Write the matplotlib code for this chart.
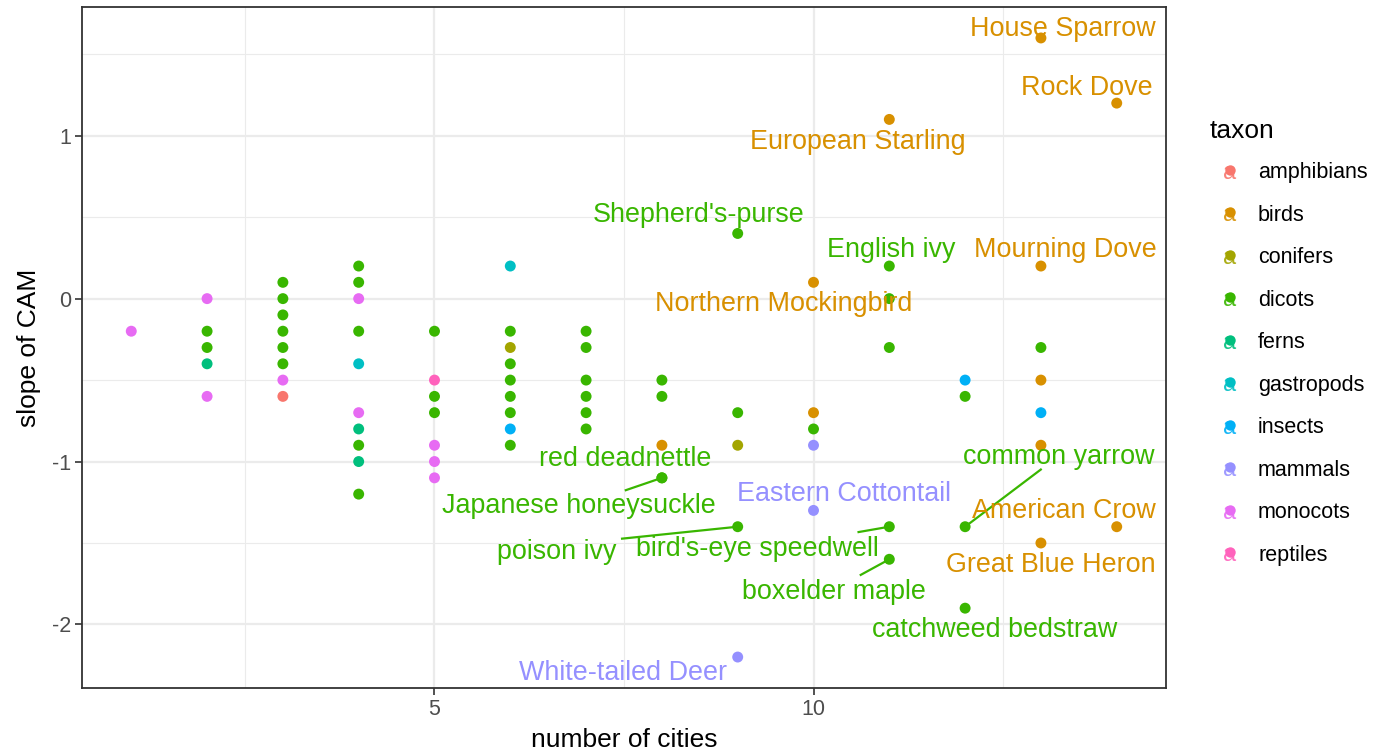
import matplotlib
matplotlib.use("Agg")
import matplotlib.pyplot as plt
from matplotlib.lines import Line2D

plt.rcParams['font.family'] = ['Liberation Sans', 'DejaVu Sans']
plt.rcParams['axes.unicode_minus'] = False

# species: number of cities, slope of CAM, taxon, name (blank = unlabelled)
cities = [1,
          2, 2, 2, 2, 2,
          3, 3, 3, 3, 3, 3, 3, 3,
          4, 4, 4, 4, 4, 4, 4, 4, 4, 4,
          5, 5, 5, 5, 5, 5, 5,
          6, 6, 6, 6, 6, 6, 6, 6, 6,
          7, 7, 7, 7, 7, 7,
          8, 8, 8, 8, 8,
          9, 9, 9, 9, 9,
          10, 10, 10, 10, 10,
          11, 11, 11, 11, 11, 11,
          12, 12, 12, 12,
          13, 13, 13, 13, 13, 13, 13,
          14, 14]
slope = [-0.2,
         0.0, -0.2, -0.3, -0.4, -0.6,
         0.1, 0.0, -0.1, -0.2, -0.3, -0.4, -0.5, -0.6,
         0.2, 0.1, 0.0, -0.2, -0.4, -0.7, -0.8, -0.9, -1.0, -1.2,
         -0.2, -0.5, -0.6, -0.7, -0.9, -1.0, -1.1,
         0.2, -0.2, -0.3, -0.4, -0.5, -0.6, -0.7, -0.8, -0.9,
         -0.2, -0.3, -0.5, -0.6, -0.7, -0.8,
         -0.5, -0.6, -0.9, -1.1, -1.1,
         0.4, -0.7, -0.9, -1.4, -2.2,
         0.1, -0.7, -0.8, -0.9, -1.3,
         1.1, 0.2, 0.0, -0.3, -1.4, -1.6,
         -0.5, -0.6, -1.4, -1.9,
         1.6, 0.2, -0.3, -0.5, -0.7, -0.9, -1.5,
         1.2, -1.4]
taxon = ['monocots',
         'monocots', 'dicots', 'dicots', 'ferns', 'monocots',
         'dicots', 'dicots', 'dicots', 'dicots', 'dicots', 'dicots', 'monocots', 'amphibians',
         'dicots', 'dicots', 'monocots', 'dicots', 'gastropods', 'monocots', 'ferns', 'dicots', 'ferns', 'dicots',
         'dicots', 'reptiles', 'dicots', 'dicots', 'monocots', 'monocots', 'monocots',
         'gastropods', 'dicots', 'conifers', 'dicots', 'dicots', 'dicots', 'dicots', 'insects', 'dicots',
         'dicots', 'dicots', 'dicots', 'dicots', 'dicots', 'dicots',
         'dicots', 'dicots', 'birds', 'dicots', 'dicots',
         'dicots', 'dicots', 'conifers', 'dicots', 'mammals',
         'birds', 'birds', 'dicots', 'mammals', 'mammals',
         'birds', 'dicots', 'dicots', 'dicots', 'dicots', 'dicots',
         'insects', 'dicots', 'dicots', 'dicots',
         'birds', 'birds', 'dicots', 'birds', 'insects', 'birds', 'birds',
         'birds', 'birds']
names = ['',
         '', '', '', '', '',
         '', '', '', '', '', '', '', '',
         '', '', '', '', '', '', '', '', '', '',
         '', '', '', '', '', '', '',
         '', '', '', '', '', '', '', '', '',
         '', '', '', '', '', '',
         '', '', '', 'red deadnettle', 'Japanese honeysuckle',
         "Shepherd's-purse", '', '', 'poison ivy', 'White-tailed Deer',
         'Northern Mockingbird', '', '', '', 'Eastern Cottontail',
         'European Starling', 'English ivy', '', '', "bird's-eye speedwell", 'boxelder maple',
         '', '', 'common yarrow', 'catchweed bedstraw',
         'House Sparrow', 'Mourning Dove', '', '', '', '', 'Great Blue Heron',
         'Rock Dove', 'American Crow']

taxa = ['amphibians', 'birds', 'conifers', 'dicots', 'ferns',
        'gastropods', 'insects', 'mammals', 'monocots', 'reptiles']
palette = ['#F8766D', '#D89000', '#A3A500', '#39B600', '#00BF7D',
           '#00BFC4', '#00B0F6', '#9590FF', '#E76BF3', '#FF62BC']
colour = dict(zip(taxa, palette))

# repelled label placement: text anchor (centre, baseline) and optional segment end
label_pos = {
    'House Sparrow': (13.29, 1.613, None),
    'Rock Dove': (13.60, 1.250, None),
    'European Starling': (10.59, 0.920, None),
    "Shepherd's-purse": (8.49, 0.468, None),
    'English ivy': (11.02, 0.258, None),
    'Mourning Dove': (13.32, 0.258, None),
    'Northern Mockingbird': (9.61, -0.074, None),
    'red deadnettle': (7.51, -1.025, None),
    'Japanese honeysuckle': (6.90, -1.317, (7.51, -1.178)),
    'poison ivy': (6.61, -1.597, (7.46, -1.474)),
    "bird's-eye speedwell": (9.26, -1.577, (10.58, -1.434)),
    'Eastern Cottontail': (10.40, -1.244, None),
    'common yarrow': (13.24, -1.014, (13.01, -1.045)),
    'American Crow': (13.30, -1.348, None),
    'Great Blue Heron': (13.13, -1.679, None),
    'boxelder maple': (10.27, -1.842, (10.61, -1.699)),
    'catchweed bedstraw': (12.39, -2.078, None),
    'White-tailed Deer': (7.49, -2.339, None),
}

W, H = 1382, 753
fig = plt.figure(figsize=(W / 100, H / 100), dpi=100)
ax = fig.add_axes([82 / W, 1 - 688 / H, (1166 - 82) / W, (688 - 7) / H])

ax.set_xlim(0.35, 14.65)
ax.set_ylim(-2.39, 1.79)
ax.set_xticks([5, 10])
ax.set_yticks([-2, -1, 0, 1])
ax.set_xticks([2.5, 7.5, 12.5], minor=True)
ax.set_yticks([-1.5, -0.5, 0.5, 1.5], minor=True)
ax.grid(which='major', color='#EBEBEB', linewidth=1.6)
ax.grid(which='minor', color='#EBEBEB', linewidth=0.8)
ax.set_axisbelow(True)
ax.tick_params(which='major', length=5, width=1.2, color='#333333',
               labelsize=15.5, labelcolor='#4D4D4D', pad=3)
ax.tick_params(which='minor', length=0)
for s in ax.spines.values():
    s.set_color('#333333')
    s.set_linewidth(1.3)

ax.set_xlabel('number of cities', fontsize=19, labelpad=6)
ax.set_ylabel('slope of CAM', fontsize=19, labelpad=8)

# segments first so the points sit on top of them
for x, y, n, t in zip(cities, slope, names, taxon):
    if n and label_pos[n][2] is not None:
        ex, ey = label_pos[n][2]
        ax.plot([x, ex], [y, ey], color=colour[t], linewidth=1.6,
                solid_capstyle='butt', zorder=2)

ax.scatter(cities, slope, c=[colour[t] for t in taxon], s=62,
           linewidths=0, zorder=3)

for x, y, n, t in zip(cities, slope, names, taxon):
    if n:
        tx, ty, _ = label_pos[n]
        ax.text(tx, ty, n, color=colour[t], fontsize=19.4,
                ha='center', va='baseline', zorder=4)

# legend drawn by hand: point with an "a" over it, as geom_text_repel keys
fig.text(1210 / W, 1 - 138 / H, 'taxon', fontsize=19, ha='left', va='baseline')
for i, (t, c) in enumerate(zip(taxa, palette)):
    yc = 1 - (172.7 + 42.5 * i) / H
    fig.text(1230 / W, yc - 6 / H, 'a', color=c, fontsize=17,
             ha='center', va='baseline', alpha=0.9)
    fig.add_artist(Line2D([1230 / W], [yc + 3 / H], marker='o', markersize=7.5,
                          markeredgewidth=0, color=c, transform=fig.transFigure))
    fig.text(1258 / W, yc, t, fontsize=15.5, ha='left', va='center')

fig.savefig('out.png', dpi=100)
